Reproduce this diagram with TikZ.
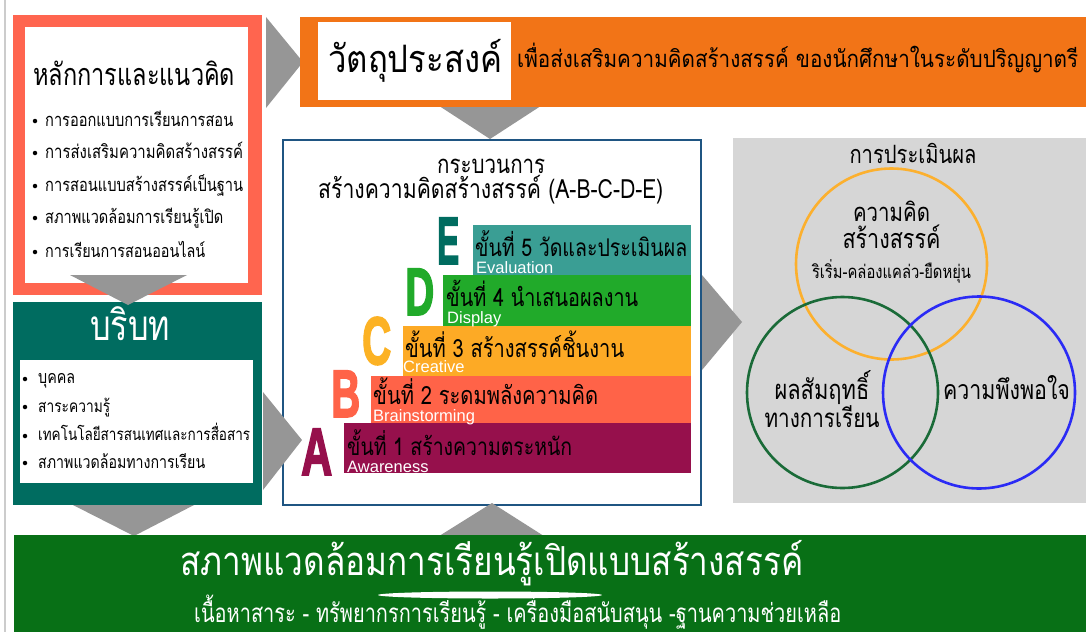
\documentclass[tikz,border=0pt]{standalone}
\usepackage{fontspec}
\setmainfont{Liberation Sans}
\newfontfamily\thai[Script=Thai]{Loma}
\newfontfamily\heavy{Liberation Sans}[BoldFeatures={FakeBold=3}]
\definecolor{coral}{HTML}{FF654F}
\definecolor{orng}{HTML}{F27417}
\definecolor{tealbox}{HTML}{006C60}
\definecolor{botgreen}{HTML}{087016}
\definecolor{arrowgray}{HTML}{969696}
\definecolor{evalgray}{HTML}{D6D6D6}
\definecolor{procblue}{HTML}{1F5582}
\definecolor{barE}{HTML}{3A9E94}
\definecolor{letE}{HTML}{006C60}
\definecolor{barD}{HTML}{21AA2A}
\definecolor{barC}{HTML}{FDAA25}
\definecolor{letC}{HTML}{FCB224}
\definecolor{barB}{HTML}{FF6348}
\definecolor{barA}{HTML}{96104C}
\definecolor{circO}{HTML}{FCB02E}
\definecolor{circG}{HTML}{1A6B38}
\definecolor{circB}{HTML}{2B2BF5}
\newcommand{\fitws}[3]{\scalebox{1}[#2]{\resizebox{#1}{!}{\thai #3}}}
\newcommand{\fitw}[2]{\fitws{#1}{1.25}{#2}}
\newcommand{\bigletter}[3]{\resizebox{#1}{#2}{\heavy\bfseries #3}}
\tikzset{
  txt/.style={inner sep=0pt, anchor=base west},
  ctxt/.style={inner sep=0pt, anchor=base},
  sub/.style={inner sep=0pt, anchor=base west, text=white, font=\fontsize{16.5}{17}\selectfont},
  garrow/.style={fill=arrowgray, draw=none},
  dot/.style={circle, fill=black, inner sep=0pt, minimum size=4.5pt},
  letter/.style={inner sep=0pt, anchor=south west},
}
\begin{document}
\begin{tikzpicture}[x=1pt,y=-1pt]
\useasboundingbox (0,0) rectangle (1086,632);
\fill[white] (0,0) rectangle (1086,632);
\draw[gray!40, line width=1.2pt] (5,0) -- (5,632);

% principles box
\fill[coral] (13,15) rectangle (262,295);
\fill[white] (25,27) rectangle (248,283);
\node[txt] (ptitle) at (33,85) {\fitws{202pt}{1.3}{หลักการและแนวคิด}};
\node[dot] (pd1) at (35,121) {}; \node[txt] (p1) at (45,126) {\fitw{188pt}{การออกแบบการเรียนการสอน}};
\node[dot] (pd2) at (35,153) {}; \node[txt] (p2) at (45,158) {\fitw{198pt}{การส่งเสริมความคิดสร้างสรรค์}};
\node[dot] (pd3) at (35,186) {}; \node[txt] (p3) at (45,191) {\fitw{198pt}{การสอนแบบสร้างสรรค์เป็นฐาน}};
\node[dot] (pd4) at (35,218) {}; \node[txt] (p4) at (45,223) {\fitw{178pt}{สภาพแวดล้อมการเรียนรู้เปิด}};
\node[dot] (pd5) at (35,252) {}; \node[txt] (p5) at (45,257) {\fitw{160pt}{การเรียนการสอนออนไลน์}};

% arrow principles -> objective
\path[garrow] (266,17) -- (303,62) -- (266,108) -- cycle;
% arrow objective -> process
\path[garrow] (430,100) -- (550,100) -- (490,139) -- cycle;

% objective box
\fill[orng] (300,17) rectangle (1086,107);
\fill[white] (318,22) rectangle (511,100);
\node[txt] (otitle) at (328,72) {\fitws{174pt}{1.15}{วัตถุประสงค์}};
\node[txt] (otext) at (517,67) {\fitws{561pt}{1.15}{เพื่อส่งเสริมความคิดสร้างสรรค์ ของนักศึกษาในระดับปริญญาตรี}};

% context box
\fill[tealbox] (13,302) rectangle (262,505);
\fill[white] (20,360) rectangle (253,483);
\node[txt, text=white] (ctitle) at (90,340) {\fitws{80pt}{1.3}{บริบท}};
\node[dot] (cd1) at (25,379) {}; \node[txt] (c1) at (38,383) {\fitw{37pt}{บุคคล}};
\node[dot] (cd2) at (25,407) {}; \node[txt] (c2) at (38,412) {\fitw{72pt}{สาระความรู้}};
\node[dot] (cd3) at (25,436) {}; \node[txt] (c3) at (38,440) {\fitw{212pt}{เทคโนโลยีสารสนเทศและการสื่อสาร}};
\node[dot] (cd4) at (25,463) {}; \node[txt] (c4) at (38,468) {\fitw{167pt}{สภาพแวดล้อมทางการเรียน}};

% arrow principles -> context
\path[garrow] (70,275) -- (187,275) -- (128,305) -- cycle;

% process box
\draw[procblue, line width=2pt, fill=white] (283,140) rectangle (701,505);
\node[txt] (pr1) at (437,173) {\fitw{108pt}{กระบวนการ}};
\node[txt] (pr2) at (318,198) {\fitw{345pt}{สร้างความคิดสร้างสรรค์ (A-B-C-D-E)}};

\fill[barE] (473,225) rectangle (691,275);
\fill[barD] (443,275) rectangle (691,326);
\fill[barC] (403,326) rectangle (691,376);
\fill[barB] (371,376) rectangle (691,423);
\fill[barA] (344,423) rectangle (691,473);

\node[letter, text=letE] (LE) at (437,264) {\bigletter{22pt}{46pt}{E}};
\node[letter, text=barD] (LD) at (405,315) {\bigletter{29pt}{46pt}{D}};
\node[letter, text=letC] (LC) at (362,365) {\bigletter{29pt}{47pt}{C}};
\node[letter, text=barB] (LB) at (331,417) {\bigletter{29pt}{46pt}{B}};
\node[letter, text=barA] (LA) at (301,475) {\bigletter{31pt}{46pt}{A}};

\node[txt] (s5) at (475,256) {\fitw{212pt}{ขั้นที่ 5 วัดและประเมินผล}};
\node[sub] (e5) at (476,273) {Evaluation};
\node[txt] (s4) at (446,306.5) {\fitw{192pt}{ขั้นที่ 4 นำเสนอผลงาน}};
\node[sub] (e4) at (447,323) {Display};
\node[txt] (s3) at (405,357) {\fitw{219pt}{ขั้นที่ 3 สร้างสรรค์ชิ้นงาน}};
\node[sub] (e3) at (403,372.5) {Creative};
\node[txt] (s2) at (373,404) {\fitw{225pt}{ขั้นที่ 2 ระดมพลังความคิด}};
\node[sub] (e2) at (373,421.5) {Brainstorming};
\node[txt] (s1) at (347,455) {\fitw{225pt}{ขั้นที่ 1 สร้างความตระหนัก}};
\node[sub] (e1) at (347,472.5) {Awareness};

% arrow context -> process
\path[garrow] (263,392) -- (302,440) -- (263,490) -- cycle;

% evaluation box
\fill[evalgray] (733,138) rectangle (1086,503);
\node[ctxt] (etitle) at (913,163) {\fitw{127pt}{การประเมินผล}};
\draw[circO, line width=2.6pt] (891.5,264) circle (95.5);
\draw[circG, line width=2.6pt] (842.5,392.5) circle (95.5);
\draw[circB, line width=2.6pt] (979,392.5) circle (96);
\node[ctxt] (o1) at (891.5,221) {\fitw{77pt}{ความคิด}};
\node[ctxt] (o2) at (891.5,248) {\fitw{98pt}{สร้างสรรค์}};
\node[ctxt] (o3) at (891.5,278) {\fitw{159pt}{ริเริ่ม-คล่องแคล่ว-ยืดหยุ่น}};
\node[ctxt] (g1) at (822,399) {\fitw{95pt}{ผลสัมฤทธิ์}};
\node[ctxt] (g2) at (822,427) {\fitw{115pt}{ทางการเรียน}};
\node[ctxt] (b1) at (1006.5,399) {\fitw{127pt}{ความพึงพอใจ}};

% arrow process -> evaluation
\path[garrow] (702,275) -- (742,322) -- (702,370) -- cycle;

% arrows to/from bottom
\path[garrow] (73,505) -- (194,505) -- (134,536) -- cycle;
\path[garrow] (436,538) -- (492,503) -- (547,538) -- cycle;

% bottom box
\fill[botgreen] (14,535) rectangle (1086,632);
\node[txt, text=white] (btitle) at (180,575) {\fitws{623pt}{1.2}{สภาพแวดล้อมการเรียนรู้เปิดแบบสร้างสรรค์}};
\fill[white] (490,595) ellipse (112 and 3.5);
\node[txt, text=white] (bsub) at (194,622) {\fitws{647pt}{1.3}{เนื้อหาสาระ - ทรัพยากรการเรียนรู้ - เครื่องมือสนับสนุน -ฐานความช่วยเหลือ}};
\end{tikzpicture}
\end{document}
